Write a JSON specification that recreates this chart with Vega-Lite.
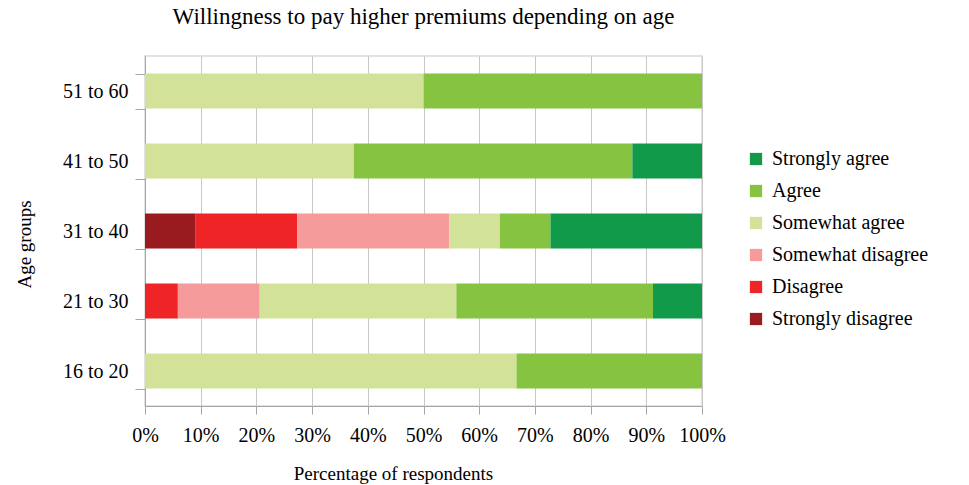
{
  "$schema": "https://vega.github.io/schema/vega-lite/v6.json",
  "autosize": {"type": "none"},
  "width": 557,
  "height": 350,
  "padding": {"left": 145, "top": 56, "right": 267, "bottom": 79},
  "background": "white",
  "config": {
    "font": "Liberation Serif",
    "view": {"stroke": "#d9d9d9", "strokeWidth": 1.5}
  },
  "title": {
    "text": "Willingness to pay higher premiums depending on age",
    "font": "Liberation Serif",
    "fontSize": 23,
    "fontWeight": "normal",
    "color": "#000000",
    "anchor": "middle",
    "offset": 17
  },
  "data": {
    "values": [
      {"age": "16 to 20", "response": "Somewhat agree", "rank": 4, "share": 0.667},
      {"age": "16 to 20", "response": "Agree", "rank": 5, "share": 0.333},
      {"age": "21 to 30", "response": "Disagree", "rank": 2, "share": 0.059},
      {"age": "21 to 30", "response": "Somewhat disagree", "rank": 3, "share": 0.147},
      {"age": "21 to 30", "response": "Somewhat agree", "rank": 4, "share": 0.353},
      {"age": "21 to 30", "response": "Agree", "rank": 5, "share": 0.353},
      {"age": "21 to 30", "response": "Strongly agree", "rank": 6, "share": 0.088},
      {"age": "31 to 40", "response": "Strongly disagree", "rank": 1, "share": 0.091},
      {"age": "31 to 40", "response": "Disagree", "rank": 2, "share": 0.182},
      {"age": "31 to 40", "response": "Somewhat disagree", "rank": 3, "share": 0.273},
      {"age": "31 to 40", "response": "Somewhat agree", "rank": 4, "share": 0.091},
      {"age": "31 to 40", "response": "Agree", "rank": 5, "share": 0.091},
      {"age": "31 to 40", "response": "Strongly agree", "rank": 6, "share": 0.272},
      {"age": "41 to 50", "response": "Somewhat agree", "rank": 4, "share": 0.375},
      {"age": "41 to 50", "response": "Agree", "rank": 5, "share": 0.5},
      {"age": "41 to 50", "response": "Strongly agree", "rank": 6, "share": 0.125},
      {"age": "51 to 60", "response": "Somewhat agree", "rank": 4, "share": 0.5},
      {"age": "51 to 60", "response": "Agree", "rank": 5, "share": 0.5}
    ]
  },
  "mark": {"type": "bar"},
  "encoding": {
    "y": {
      "field": "age",
      "type": "nominal",
      "sort": ["51 to 60", "41 to 50", "31 to 40", "21 to 30", "16 to 20"],
      "scale": {"paddingInner": 0.5, "paddingOuter": 0.25},
      "axis": {
        "title": "Age groups",
        "titleFont": "Liberation Serif",
        "titleFontSize": 19,
        "titleFontWeight": "normal",
        "titleColor": "#000000",
        "titlePadding": 28,
        "titleY": 188,
        "labelFont": "Liberation Serif",
        "labelFontSize": 20,
        "labelColor": "#000000",
        "labelPadding": 7,
        "tickBand": "extent",
        "tickSize": 10,
        "tickColor": "#a6a6a6",
        "domainColor": "#a6a6a6",
        "grid": false
      }
    },
    "x": {
      "field": "share",
      "type": "quantitative",
      "stack": "zero",
      "scale": {"domain": [0, 1], "nice": false},
      "axis": {
        "title": "Percentage of respondents",
        "titleFont": "Liberation Serif",
        "titleFontSize": 19,
        "titleFontWeight": "normal",
        "titleColor": "#000000",
        "titlePadding": 19,
        "titleX": 248,
        "format": ".0%",
        "values": [0, 0.1, 0.2, 0.3, 0.4, 0.5, 0.6, 0.7, 0.8, 0.9, 1],
        "labelFont": "Liberation Serif",
        "labelFontSize": 20,
        "labelColor": "#000000",
        "labelPadding": 11,
        "labelFlush": false,
        "tickSize": 8,
        "tickColor": "#a6a6a6",
        "domainColor": "#a6a6a6",
        "grid": true,
        "gridColor": "#c8c8c8"
      }
    },
    "color": {
      "field": "response",
      "type": "nominal",
      "scale": {
        "domain": ["Strongly agree", "Agree", "Somewhat agree", "Somewhat disagree", "Disagree", "Strongly disagree"],
        "range": ["#109a4a", "#86c341", "#d2e399", "#f59b9b", "#ee2427", "#9a1b1f"]
      },
      "legend": {
        "title": null,
        "orient": "none",
        "legendX": 601,
        "legendY": 93,
        "symbolType": "square",
        "symbolSize": 150,
        "symbolStrokeWidth": 0,
        "labelFont": "Liberation Serif",
        "labelFontSize": 20,
        "labelColor": "#000000",
        "labelOffset": 6,
        "rowPadding": 12,
        "labelLimit": 300
      }
    },
    "order": {"field": "rank", "type": "quantitative"}
  }
}
